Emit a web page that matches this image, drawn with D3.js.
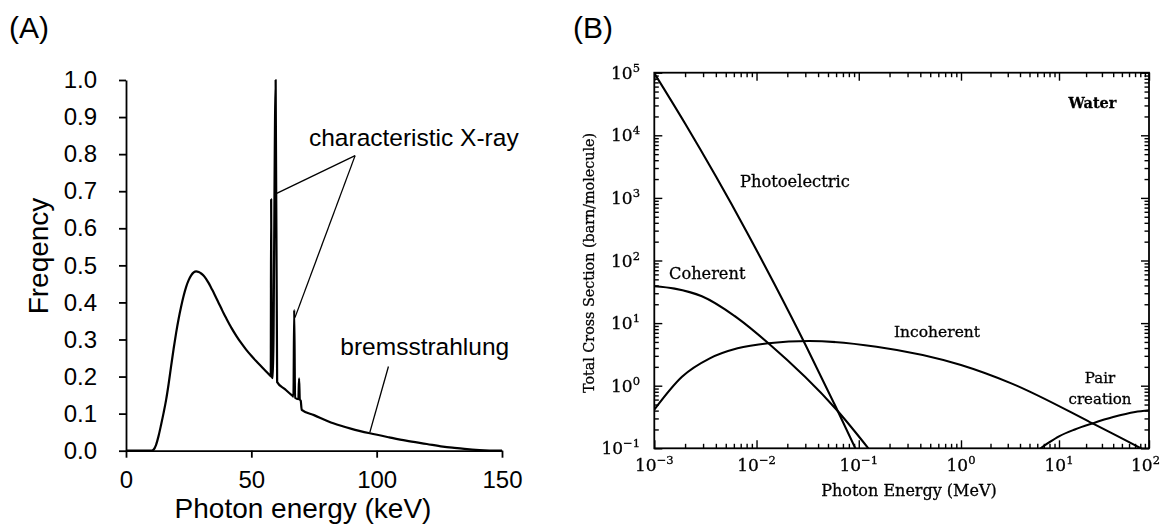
<!DOCTYPE html>
<html>
<head>
<meta charset="utf-8">
<script src="https://cdn.jsdelivr.net/npm/d3@7"></script>
<style>
  html, body { margin: 0; padding: 0; background: #fff; }
  svg { display: block; }
</style>
</head>
<body>
<svg id="fig" width="1161" height="528"></svg>
<script>
// ---------- Panel A: X-ray tube spectrum (tungsten anode) ----------
const spectrumKeV = [
  0, 10, 11, 12, 13, 14, 15, 16, 17, 18, 19, 20, 21, 22, 23, 24, 25, 26, 27, 28, 29,
  30, 31, 32, 33, 34, 35, 36, 37, 38, 39, 40, 42, 44, 46, 48, 50, 52, 54, 56, 57.6,
  57.75, 57.9, 58.2, 58.6, 59.7, 60.3,
  63.4, 66.6, 66.8, 67.1, 67.45, 68.75, 69.05, 69.35, 69.7, 70.1,
  75, 82.7, 90, 97.3, 105, 111.7, 120, 126.4, 131, 135, 141, 145, 150
];
const spectrumFreq = [
  0, 0, 0.003, 0.016, 0.04, 0.07, 0.102, 0.137, 0.18, 0.228, 0.275, 0.318, 0.356, 0.389, 0.418, 0.442, 0.46, 0.473, 0.481, 0.484, 0.482,
  0.478, 0.472, 0.463, 0.452, 0.439, 0.426, 0.412, 0.398, 0.384, 0.37, 0.357, 0.332, 0.31, 0.29, 0.272, 0.256, 0.241, 0.227, 0.213, 0.202,
  0.201, 0.678, 0.199, 0.196, 1.0, 0.185,
  0.166, 0.147, 0.146, 0.38, 0.143, 0.139, 0.195, 0.138, 0.135, 0.11,
  0.096, 0.074, 0.059, 0.047, 0.036, 0.027, 0.018, 0.011, 0.0075, 0.0048, 0.0018, 0.0006, 0
];
const freqTicks = [0, 0.1, 0.2, 0.3, 0.4, 0.5, 0.6, 0.7, 0.8, 0.9, 1.0];
const keVTicks = [0, 50, 100, 150];

// ---------- Panel B: photon cross sections of water ----------
const photoMeV   = [0.001, 0.002, 0.004, 0.008, 0.015, 0.03, 0.06, 0.1, 0.12];
const photoBarn  = [9.8e4, 1.54e4, 2210, 289, 41.8, 4.55, 0.449, 0.0766, 0.04];
const cohMeV     = [0.001, 0.00158, 0.00292, 0.00652, 0.01306, 0.0634, 0.124, 0.178];
const cohBarn    = [38.7, 35.5, 26.8, 12.0, 4.76, 0.38, 0.1, 0.047];
const incohMeV   = [0.001, 0.001866, 0.00349, 0.00652, 0.01306, 0.0327, 0.149, 1, 3.26, 23.6, 76, 100];
const incohBarn  = [0.414, 1.387, 2.73, 3.95, 4.76, 5.18, 4.2, 2.14, 1.09, 0.25, 0.105, 0.085];
const pairMeV    = [5, 6.5, 8, 10, 15, 23.6, 40, 70, 100];
const pairBarn   = [0.075, 0.1, 0.125, 0.155, 0.2, 0.25, 0.315, 0.38, 0.405];
const energyDecades = [1e-3, 1e-2, 1e-1, 1, 10, 100];
const sigmaDecades  = [1e-1, 1, 10, 1e2, 1e3, 1e4, 1e5];

const svg = d3.select("#fig");
const SANS = "'Liberation Sans', Arial, sans-serif";
const SERIF = "'DejaVu Serif', serif";

// ================= Panel A =================
const xA = d3.scaleLinear().domain([0, 150]).range([126, 502]);
const yA = d3.scaleLinear().domain([0, 1]).range([450.7, 80]);
const gA = svg.append("g");

const axA_x = gA.append("g")
  .attr("transform", `translate(0,${yA(0)})`)
  .call(d3.axisBottom(xA).tickValues(keVTicks).tickSize(7).tickSizeOuter(0).tickPadding(13).tickFormat(d3.format("d")));
const axA_y = gA.append("g")
  .attr("transform", `translate(${xA(0)},0)`)
  .call(d3.axisLeft(yA).tickValues(freqTicks).tickSize(7).tickSizeOuter(0).tickPadding(22).tickFormat(d3.format(".1f")));
[axA_x, axA_y].forEach(a => {
  a.selectAll("path,line").attr("stroke", "#000").attr("stroke-width", 1.8);
  a.selectAll("text").attr("font-family", SANS).attr("font-size", 24).attr("fill", "#000");
});

const spectrum = d3.range(spectrumKeV.length).map(i => [spectrumKeV[i], spectrumFreq[i]]);
gA.append("path")
  .datum(spectrum)
  .attr("fill", "none")
  .attr("stroke", "#000")
  .attr("stroke-width", 2.2)
  .attr("stroke-linejoin", "round")
  .attr("d", d3.line().x(d => xA(d[0])).y(d => yA(d[1])).curve(d3.curveMonotoneX));

// annotations
const note = (x1, y1, x2, y2) => gA.append("line")
  .attr("x1", xA(x1)).attr("y1", yA(y1)).attr("x2", xA(x2)).attr("y2", yA(y2))
  .attr("stroke", "#000").attr("stroke-width", 1.3);
note(91.4, 0.796, 59.7, 0.693);
note(91.4, 0.796, 67.4, 0.359);
note(104.7, 0.227, 97.3, 0.05);

gA.append("text").attr("x", xA(73)).attr("y", yA(0.823))
  .attr("font-family", SANS).attr("font-size", 24.5).text("characteristic X-ray");
gA.append("text").attr("x", xA(85.5)).attr("y", yA(0.259))
  .attr("font-family", SANS).attr("font-size", 24.5).text("bremsstrahlung");

gA.append("text").attr("x", 303).attr("y", 518).attr("text-anchor", "middle")
  .attr("font-family", SANS).attr("font-size", 28).text("Photon energy (keV)");
gA.append("text").attr("transform", "translate(48,256) rotate(-90)").attr("text-anchor", "middle")
  .attr("font-family", SANS).attr("font-size", 28).text("Freqency");
gA.append("text").attr("x", 9).attr("y", 38)
  .attr("font-family", SANS).attr("font-size", 30).text("(A)");

svg.append("text").attr("x", 573).attr("y", 38)
  .attr("font-family", SANS).attr("font-size", 30).text("(B)");

// ================= Panel B =================
// the printed energy axis has a slightly shorter last decade; a piecewise log scale follows it
const xB = d3.scaleLog().domain([1e-3, 1, 10, 100]).range([654.3, 961, 1059, 1149]);
const yB = d3.scaleLog().domain([1e-1, 1e5]).range([448.3, 72.7]);

const defs = svg.append("defs");
defs.append("clipPath").attr("id", "plotB")
  .append("rect").attr("x", xB(1e-3)).attr("y", yB(1e5))
  .attr("width", xB(100) - xB(1e-3)).attr("height", yB(1e-1) - yB(1e5));
defs.append("filter").attr("id", "soft").attr("x", "-5%").attr("y", "-5%").attr("width", "110%").attr("height", "110%")
  .append("feGaussianBlur").attr("stdDeviation", 0.45);

const gB = svg.append("g").attr("filter", "url(#soft)");

const isDecade = v => Math.abs(Math.log10(v) - Math.round(Math.log10(v))) < 1e-6;
const xMinor = xB.ticks().filter(v => !isDecade(v));
const yMinor = yB.ticks().filter(v => !isDecade(v));

function tickAxis(axisFn, scale, values, size, transform) {
  const a = gB.append("g").attr("transform", transform)
    .call(axisFn(scale).tickValues(values).tickSize(-size).tickSizeOuter(0).tickFormat(""));
  a.select(".domain").remove();
  a.selectAll("line").attr("stroke", "#000").attr("stroke-width", 1.4);
  return a;
}
const L = xB(1e-3), R = xB(100), T = yB(1e5), B = yB(1e-1);
tickAxis(d3.axisBottom, xB, xMinor, 4.5, `translate(0,${B})`);
tickAxis(d3.axisBottom, xB, energyDecades, 8, `translate(0,${B})`);
tickAxis(d3.axisTop, xB, xMinor, 4.5, `translate(0,${T})`);
tickAxis(d3.axisTop, xB, energyDecades, 8, `translate(0,${T})`);
tickAxis(d3.axisLeft, yB, yMinor, 4.5, `translate(${L},0)`);
tickAxis(d3.axisLeft, yB, sigmaDecades, 8, `translate(${L},0)`);
tickAxis(d3.axisRight, yB, yMinor, 4.5, `translate(${R},0)`);
tickAxis(d3.axisRight, yB, sigmaDecades, 8, `translate(${R},0)`);

gB.append("rect").attr("x", L).attr("y", T).attr("width", R - L).attr("height", B - T)
  .attr("fill", "none").attr("stroke", "#000").attr("stroke-width", 1.8);

// power-of-ten labels
const expText = v => {
  const e = Math.round(Math.log10(v));
  return e < 0 ? "\u2212" + Math.abs(e) : String(e);
};
const inked = sel => sel.attr("fill", "#000").attr("stroke", "#000").attr("stroke-width", 0.3);
energyDecades.forEach((v, i) => {
  const last = i === energyDecades.length - 1;
  const t = gB.append("text").attr("x", last ? 1160 : xB(v)).attr("y", 470.7)
    .attr("text-anchor", last ? "end" : "middle")
    .attr("font-family", SERIF).attr("font-size", 17).call(inked);
  t.append("tspan").text("10");
  t.append("tspan").attr("dy", -7).attr("font-size", 11.5).text(expText(v));
});
sigmaDecades.forEach(v => {
  const t = gB.append("text").attr("x", 640).attr("y", yB(v) + 6).attr("text-anchor", "end")
    .attr("font-family", SERIF).attr("font-size", 17).call(inked);
  t.append("tspan").text("10");
  t.append("tspan").attr("dy", -7).attr("font-size", 11.5).text(expText(v));
});

// cross-section curves
const lineB = d3.line().x(d => xB(d[0])).y(d => yB(d[1])).curve(d3.curveMonotoneX);
const curves = [
  [photoMeV, photoBarn], [cohMeV, cohBarn], [incohMeV, incohBarn], [pairMeV, pairBarn]
];
const gCurves = gB.append("g").attr("clip-path", "url(#plotB)");
curves.forEach(([e, s]) => {
  gCurves.append("path")
    .datum(e.map((v, i) => [v, s[i]]))
    .attr("fill", "none").attr("stroke", "#000").attr("stroke-width", 2.1)
    .attr("d", lineB);
});

// curve names
const labelB = (x, y, txt, anchor = "start", size = 16, weight = "normal") =>
  gB.append("text").attr("x", x).attr("y", y).attr("text-anchor", anchor)
    .attr("font-family", SERIF).attr("font-size", size).attr("font-weight", weight).text(txt).call(inked);
labelB(740, 187.4, "Photoelectric", "start", 16.3);
labelB(669, 279, "Coherent", "start", 16.2);
labelB(894, 337, "Incoherent", "start", 15.5);
labelB(1068.5, 108.3, "Water", "start", 14.5, "bold");
labelB(1100, 383.3, "Pair", "middle", 15);
labelB(1100, 404, "creation", "middle", 15);

labelB(909, 496, "Photon Energy (MeV)", "middle", 16);
gB.append("text").attr("transform", "translate(594,263) rotate(-90)").attr("text-anchor", "middle")
  .attr("font-family", SERIF).attr("font-size", 14.3).text("Total Cross Section (barn/molecule)").call(inked);
</script>
</body>
</html>
